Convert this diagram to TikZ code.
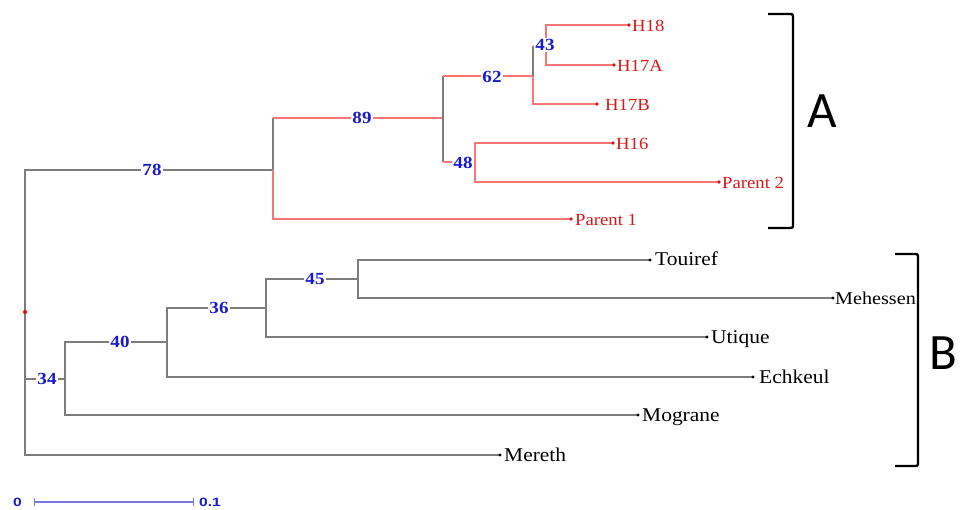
\documentclass[tikz,border=0pt]{standalone}
\usepackage{fontspec}
\setmainfont{Liberation Serif}
\newfontfamily\leaffont[FakeStretch=1.1]{Liberation Serif}
\newfontfamily\leafwide[FakeStretch=1.12]{Liberation Serif}
\newfontfamily\bootfont[FakeStretch=1.12]{Liberation Serif}
\newfontfamily\barfont[FakeStretch=1.3]{Liberation Sans}
\newfontfamily\groupfont{Carlito}
\definecolor{rdline}{RGB}{250,118,118}
\definecolor{rdtext}{RGB}{215,25,25}
\definecolor{grline}{RGB}{125,125,125}
\definecolor{bootblue}{RGB}{25,25,205}
\definecolor{barblue}{RGB}{120,120,235}
\tikzset{
  gr/.style={draw=grline, line width=1.6pt},
  rd/.style={draw=rdline, line width=1.6pt},
  boot/.style={fill=white, inner sep=1pt, text=bootblue, font=\bootfont\bfseries\fontsize{17}{17}\selectfont},
  leafred/.style={anchor=base west, inner sep=0pt, text=rdtext, font=\leaffont\fontsize{17}{17}\selectfont},
  leafblk/.style={anchor=base west, inner sep=0pt, text=black, font=\leaffont\fontsize{19.5}{19.5}\selectfont},
  bracket/.style={draw=black, line width=2.4pt, rounded corners=2pt},
  grouplbl/.style={inner sep=0pt, font=\groupfont\fontsize{51}{51}\selectfont},
  barlbl/.style={inner sep=0pt, text=bootblue, font=\barfont\bfseries\fontsize{12}{12}\selectfont},
}
\begin{document}
\begin{tikzpicture}[x=1pt, y=-1pt]
\fill[white] (0,0) rectangle (966,509);
\useasboundingbox (0,0) rectangle (966,509);

% internal nodes
\coordinate (root) at (25,312);
\coordinate (n78) at (273,170);
\coordinate (n89) at (443,118);
\coordinate (n62) at (533,76);
\coordinate (n43) at (546,46);
\coordinate (n48) at (475,162);
\coordinate (n34) at (65,379);
\coordinate (n40) at (167,342);
\coordinate (n36) at (266,308);
\coordinate (n45) at (358,279);
% leaves
\coordinate (H18) at (629,25);
\coordinate (H17A) at (614,65);
\coordinate (H17B) at (597,104);
\coordinate (H16) at (613,143);
\coordinate (P2) at (719,182);
\coordinate (P1) at (571,219);
\coordinate (Tou) at (650,260);
\coordinate (Meh) at (833,298);
\coordinate (Uti) at (707,337);
\coordinate (Ech) at (753,377);
\coordinate (Mog) at (638,415);
\coordinate (Mer) at (500,455);

% group B and the root
\draw[gr] (root) |- (n78);
\draw[gr] (root) |- (n34);
\draw[gr] (root) |- (Mer);
\draw[gr] (n34) |- (n40);
\draw[gr] (n34) |- (Mog);
\draw[gr] (n40) |- (n36);
\draw[gr] (n40) |- (Ech);
\draw[gr] (n36) |- (n45);
\draw[gr] (n36) |- (Uti);
\draw[gr] (n45) |- (Tou);
\draw[gr] (n45) |- (Meh);

% group A
\draw[gr] (n78) -- (n78 |- n89);
\draw[rd] (n78 |- n89) -- (n89);
\draw[rd] (n78) |- (P1);
\draw[gr] (n89 |- n62) -- (n89 |- n48);
\draw[rd] (n89 |- n62) -- (n62);
\draw[rd] (n89 |- n48) -- (n48);
\draw[gr] (n62 |- n43) -- (n62);
\draw[rd] (n62 |- n43) -- (n43);
\draw[rd] (n62) |- (H17B);
\draw[rd] (n43) |- (H18);
\draw[rd] (n43) |- (H17A);
\draw[rd] (n48) |- (H16);
\draw[rd] (n48) |- (P2);

\fill[red] (root) circle (2);

% bootstrap values
\node[boot] (b78) at (152,170) {78};
\node[boot] (b89) at (362,118) {89};
\node[boot] (b62) at (492,77) {62};
\node[boot] (b43) at (545,45) {43};
\node[boot] (b48) at (463,163) {48};
\node[boot] (b45) at (315,279) {45};
\node[boot] (b36) at (219,308) {36};
\node[boot] (b40) at (120,342) {40};
\node[boot] (b34) at (47,379) {34};

% leaf tips and names
\foreach \c in {H18,H17A,H17B,H16,P2,P1}{\fill[rdtext] (\c) circle (1.8);}
\foreach \c in {Tou,Meh,Uti,Ech,Mog,Mer}{\fill[black] (\c) circle (1.6);}
\node[leafred] (tH18) at ([xshift=3pt,yshift=-6pt]H18) {H18};
\node[leafred] (tH17A) at ([xshift=3pt,yshift=-6pt]H17A) {H17A};
\node[leafred] (tH17B) at ([xshift=8pt,yshift=-6pt]H17B) {H17B};
\node[leafred] (tH16) at ([xshift=3pt,yshift=-6pt]H16) {H16};
\node[leafred] (tP2) at ([xshift=3pt,yshift=-6pt]P2) {Parent 2};
\node[leafred] (tP1) at ([xshift=4pt,yshift=-6pt]P1) {Parent 1};
\node[leafblk] (tTou) at ([xshift=5pt,yshift=-5pt]Tou) {Touiref};
\node[leafblk, font=\leafwide\fontsize{18}{18}\selectfont] (tMeh) at ([xshift=2pt,yshift=-6pt]Meh) {Mehessen};
\node[leafblk] (tUti) at ([xshift=4pt,yshift=-6pt]Uti) {Utique};
\node[leafblk] (tEch) at ([xshift=6pt,yshift=-6pt]Ech) {Echkeul};
\node[leafblk] (tMog) at ([xshift=4pt,yshift=-6pt]Mog) {Mograne};
\node[leafblk] (tMer) at ([xshift=4pt,yshift=-6pt]Mer) {Mereth};

% cluster brackets
\draw[bracket] (768,14) -- (793,14) -- (793,228) -- (768,228);
\draw[bracket] (895,254) -- (918,254) -- (918,466) -- (895,466);
\node[grouplbl] (gA) at (822,111) {A};
\node[grouplbl] (gB) at (943,353) {B};

% scale bar
\coordinate (s0) at (34,502);
\coordinate (s1) at (193,502);
\draw[draw=barblue, line width=1.3pt] (s0) -- (s1);
\draw[draw=barblue, line width=1pt] ([yshift=-4pt]s0) -- ([yshift=4pt]s0);
\draw[draw=barblue, line width=1pt] ([yshift=-4pt]s1) -- ([yshift=4pt]s1);
\node[barlbl, anchor=east] (l0) at ([xshift=-12pt]s0) {0};
\node[barlbl, anchor=west] (l1) at ([xshift=6pt]s1) {0.1};
\end{tikzpicture}
\end{document}
